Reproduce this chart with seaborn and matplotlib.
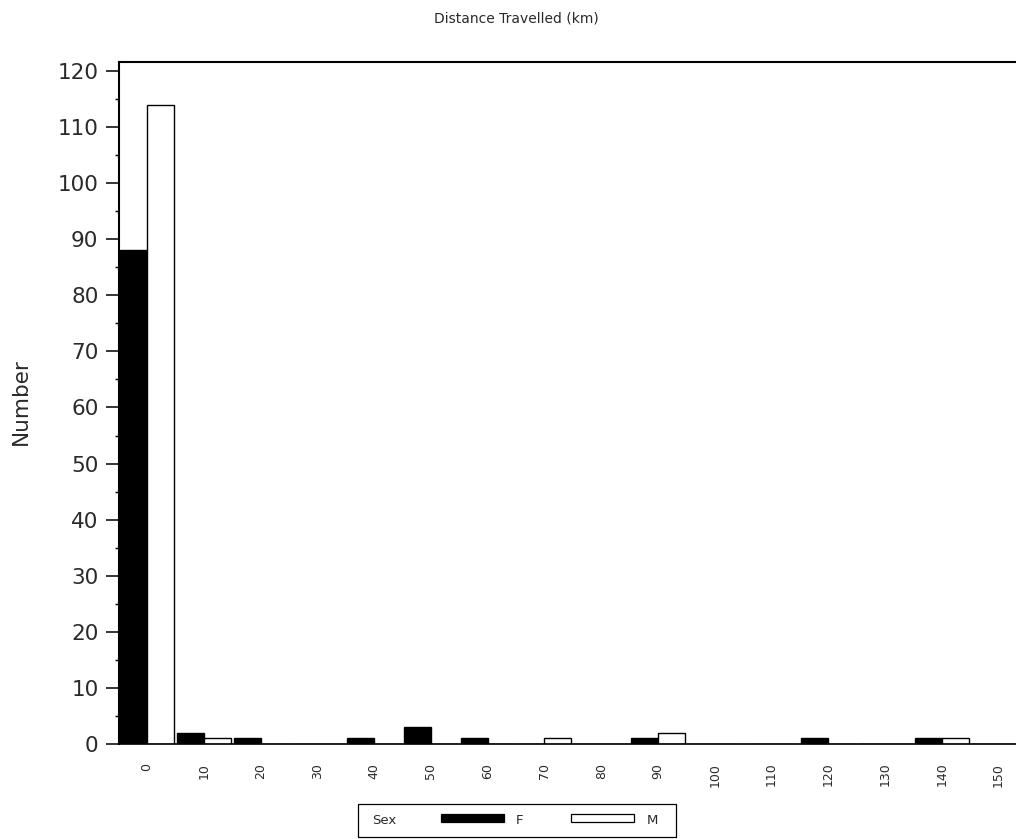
import numpy as np
import pandas as pd
import matplotlib
matplotlib.use("Agg")
import matplotlib.pyplot as plt
from matplotlib.patches import Rectangle
import seaborn as sns

# Distance classes (km) and counts per sex
distance_km = ["0", "10", "20", "30", "40", "50", "60", "70", "80", "90",
               "100", "110", "120", "130", "140", "150"]
count_f = [88, 2, 1, 0, 1, 3, 1, 0, 0, 1, 0, 0, 1, 0, 1, 0]
count_m = [114, 1, 0, 0, 0, 0, 0, 1, 0, 2, 0, 0, 0, 0, 1, 0]
sexes = ["F", "M"]
sex_colors = {"F": "black", "M": "white"}
y_ticks = list(range(0, 121, 10))

df = pd.DataFrame({
    "Distance": distance_km * 2,
    "Sex": ["F"] * len(distance_km) + ["M"] * len(distance_km),
    "Number": count_f + count_m,
})

sns.set_theme(style="white")
plt.rcParams["font.family"] = ["DejaVu Sans"]
TEXT = "#2a2a2a"

W, H = 1016, 839
fig = plt.figure(figsize=(W / 100, H / 100), dpi=100)


def fx(px):
    return px / W


def fy(py):
    return 1 - py / H


# axes box in pixel terms: left 118.6, right 1027, top 62, bottom 744
ax = fig.add_axes([fx(118.6), fy(744), (1027 - 118.6) / W, (744 - 62) / H])

sns.barplot(data=df, x="Distance", y="Number", hue="Sex", order=distance_km,
            hue_order=sexes, palette=sex_colors, edgecolor="black",
            linewidth=1.0, width=0.95, saturation=1, legend=False, ax=ax)

ax.set_xlim(-0.5, len(distance_km) - 0.5)
ax.set_ylim(0, 121.6)
ax.set_yticks(y_ticks)
ax.set_yticks(np.arange(5, 120, 10), minor=True)
ax.tick_params(axis="y", which="major", direction="out", length=9.5, width=1.1,
               color="black", pad=5, labelsize=15.5, labelcolor=TEXT, left=True)
ax.tick_params(axis="y", which="minor", direction="out", length=3, width=1.0,
               color="black", left=True)
ax.tick_params(axis="x", length=0, pad=13.5, labelsize=9, labelcolor=TEXT,
               labelrotation=90)
for lab in ax.get_xticklabels():
    lab.set_va("top")

for side in ["left", "top", "bottom"]:
    ax.spines[side].set_visible(True)
    ax.spines[side].set_color("black")
    ax.spines[side].set_linewidth(1.5)
ax.spines["bottom"].set_linewidth(1.2)
ax.spines["right"].set_visible(False)
ax.grid(False)

ax.set_xlabel("")
ax.set_ylabel("Number", fontsize=15.5, color=TEXT)
ax.yaxis.set_label_coords((21 - 118.6) / (1027 - 118.6), (744 - 402) / (744 - 62))
ax.yaxis.label.set_va("center")

fig.text(fx(516), fy(18), "Distance Travelled (km)", fontsize=10, color=TEXT,
         ha="center", va="center")

# legend strip below the plot
fig.add_artist(Rectangle((fx(358), fy(837)), (676 - 358) / W, (837 - 804) / H,
                         transform=fig.transFigure, fill=False,
                         edgecolor="black", linewidth=0.9))
fig.text(fx(372), fy(821), "Sex", fontsize=9.5, color=TEXT, ha="left", va="center")
for x0, x1, sex, tx in [(441, 504, "F", 516), (571, 634, "M", 647)]:
    fig.add_artist(Rectangle((fx(x0), fy(822)), (x1 - x0) / W, 8 / H,
                             transform=fig.transFigure,
                             facecolor=sex_colors[sex], edgecolor="black",
                             linewidth=0.9))
    fig.text(fx(tx), fy(821), sex, fontsize=9.5, color=TEXT, ha="left", va="center")

fig.savefig("out.png", dpi=100)
